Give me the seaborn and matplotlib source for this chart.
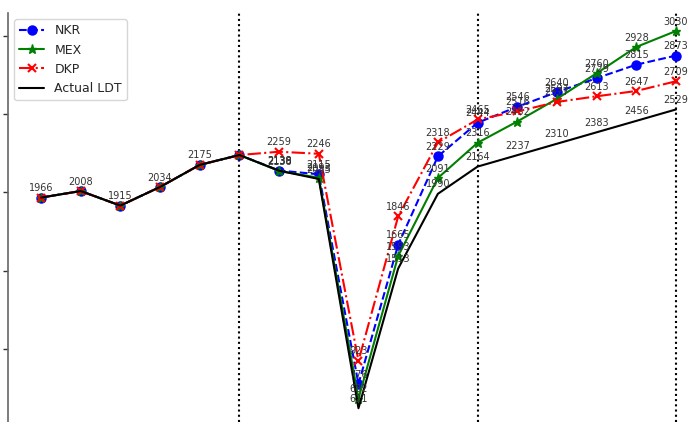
import matplotlib
matplotlib.use("Agg")
import matplotlib.pyplot as plt
import seaborn as sns
import pandas as pd
import numpy as np

# ---- data ----
steps = list(range(17))
actual = [1966, 2008, 1915, 2034, 2175, 2238, 2138, 2085, 621, 1513, 1990, 2164, 2237, 2310, 2383, 2456, 2529]
history = actual[:6]
nkr_fc = [2139, 2115, 776, 1665, 2229, 2444, 2546, 2640, 2729, 2815, 2873]
mex_fc = [2136, 2093, 682, 1593, 2091, 2316, 2452, 2597, 2760, 2928, 3030]
dkp_fc = [2259, 2246, 923, 1846, 2318, 2465, 2516, 2577, 2613, 2647, 2709]
nkr = history + nkr_fc
mex = history + mex_fc
dkp = history + dkp_fc
actual_label_idx = [0, 1, 2, 3, 4] + list(range(6, 17))
fc_label_idx = list(range(6, 17))
split_lines = [5, 11, 16]
yticks = [1000, 1500, 2000, 2500, 3000]

df = pd.DataFrame({"step": steps, "NKR": nkr, "MEX": mex, "DKP": dkp, "Actual LDT": actual})

sns.set_style("white")
fig = plt.figure(figsize=(6.97, 4.22), dpi=100)
ax = fig.add_axes([8 / 697, 0, 1 - 8 / 697, (422 - 13) / 422])

sns.lineplot(data=df, x="step", y="NKR", ax=ax, color="blue", linestyle="--", marker="o",
             markersize=6.5, markeredgecolor="blue", markeredgewidth=1, lw=1.5, label="NKR")
sns.lineplot(data=df, x="step", y="MEX", ax=ax, color="green", linestyle="-", marker="*",
             markersize=6.5, markeredgecolor="green", markeredgewidth=1, lw=1.5, label="MEX")
sns.lineplot(data=df, x="step", y="DKP", ax=ax, color="red", linestyle="-.", marker="x",
             markersize=6, markeredgecolor="red", markeredgewidth=1.5, lw=1.5, label="DKP")
sns.lineplot(data=df, x="step", y="Actual LDT", ax=ax, color="black", linestyle="-",
             lw=1.5, label="Actual LDT")

for i in split_lines:
    ax.axvline(i, color="black", linestyle=(0, (1, 1.5)), lw=1.5, zorder=0)

def lab(x, y):
    ax.annotate(f"{y}", (x, y), xytext=(0, 6.8), textcoords="offset points",
                ha="center", va="center", fontsize=7, color="#333333")

for i in actual_label_idx:
    lab(steps[i], actual[i])
for series in (nkr, mex, dkp):
    for i in fc_label_idx:
        lab(steps[i], series[i])

ax.set_xlim(-0.831, 16.53)
ax.set_ylim(533, 3145)
ax.set_yticks(yticks)
ax.set_xticks([])
ax.tick_params(axis="y", left=True, labelleft=False, length=3.5, width=1, color="#333333")
for s in ("top", "right", "bottom"):
    ax.spines[s].set_visible(False)
ax.spines["left"].set_color("#666666")
ax.spines["left"].set_linewidth(1.2)
ax.set_xlabel("")
ax.set_ylabel("")
ax.legend(loc="upper left", fontsize=9)

fig.savefig("out.png", dpi=100)
